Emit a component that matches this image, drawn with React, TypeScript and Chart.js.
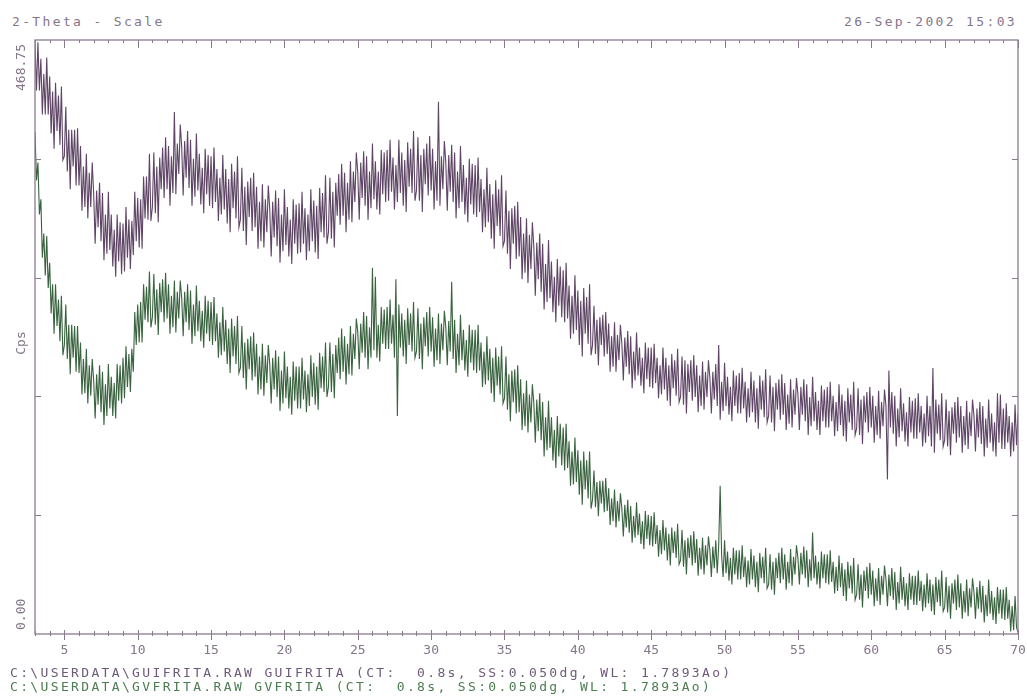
import React, { useEffect, useRef } from "react";
import { Chart, registerables } from "chart.js";

Chart.register(...registerables);

// 2-Theta scan: start angle and step (degrees)
const START_2THETA = 3;
const STEP_2THETA = 0.1;

// GUIFRITA scan (upper, purple), Cps, one row = 2 degrees
const guifritaCps = [
  466, 429, 467, 429, 454, 410, 442, 410, 455, 410, 440, 395, 428, 383, 435, 397, 425, 386, 432, 374,
  377, 416, 365, 398, 351, 398, 369, 398, 354, 399, 354, 385, 334, 369, 337, 379, 328, 364, 337, 372,
  347, 308, 350, 321, 356, 310, 348, 295, 331, 300, 349, 303, 331, 290, 319, 282, 331, 294, 325, 284,
  324, 286, 337, 297, 327, 288, 326, 299, 349, 310, 344, 305, 343, 304, 361, 328, 361, 327, 379, 326,
  337, 380, 332, 369, 325, 376, 351, 384, 344, 392, 351, 385, 338, 377, 348, 412, 347, 387, 363, 402,
  384, 346, 389, 360, 397, 352, 390, 338, 375, 345, 395, 350, 379, 339, 368, 332, 383, 347, 378, 338,
  377, 336, 384, 341, 367, 326, 360, 331, 378, 335, 367, 324, 359, 317, 371, 336, 365, 328, 377, 321,
  327, 368, 318, 353, 307, 357, 329, 360, 318, 364, 321, 353, 304, 341, 310, 355, 305, 343, 317, 354,
  335, 298, 341, 313, 350, 306, 344, 293, 331, 302, 351, 307, 337, 298, 327, 292, 343, 308, 339, 300,
  340, 301, 349, 308, 336, 295, 331, 302, 351, 310, 342, 301, 338, 296, 352, 317, 348, 313, 362, 308,
  317, 360, 312, 349, 305, 356, 330, 363, 323, 371, 330, 364, 317, 356, 327, 373, 325, 365, 341, 380,
  364, 327, 372, 344, 381, 338, 377, 327, 365, 336, 387, 343, 373, 335, 365, 331, 382, 347, 380, 341,
  382, 342, 390, 349, 376, 335, 370, 341, 390, 348, 380, 338, 374, 333, 388, 353, 383, 348, 397, 342,
  350, 392, 342, 378, 333, 383, 355, 387, 346, 393, 350, 383, 335, 373, 342, 420, 338, 377, 351, 389,
  372, 334, 378, 349, 386, 341, 380, 328, 365, 336, 385, 341, 370, 331, 360, 325, 375, 339, 371, 331,
  370, 329, 376, 333, 359, 317, 351, 321, 368, 325, 355, 312, 347, 304, 358, 322, 351, 314, 362, 306,
  310, 350, 300, 334, 288, 336, 308, 338, 296, 341, 298, 329, 280, 316, 285, 328, 277, 315, 288, 325,
  305, 267, 309, 280, 316, 270, 308, 256, 292, 262, 311, 265, 294, 254, 282, 246, 296, 259, 290, 250,
  287, 246, 293, 249, 275, 233, 267, 237, 283, 240, 271, 228, 263, 219, 273, 237, 266, 229, 276, 220,
  228, 259, 221, 248, 212, 250, 228, 252, 219, 254, 221, 245, 207, 235, 211, 246, 207, 236, 216, 244,
  229, 200, 234, 211, 239, 205, 235, 194, 223, 200, 238, 204, 226, 196, 218, 190, 230, 201, 226, 195,
  226, 194, 229, 198, 218, 186, 212, 189, 226, 193, 218, 184, 212, 180, 221, 194, 216, 188, 225, 183,
  187, 219, 181, 216, 174, 213, 191, 216, 184, 220, 187, 212, 175, 204, 180, 215, 177, 207, 187, 216,
  202, 174, 207, 185, 213, 180, 228, 169, 199, 176, 214, 180, 203, 173, 195, 168, 208, 180, 204, 174,
  206, 174, 210, 178, 199, 167, 194, 171, 207, 175, 200, 167, 194, 162, 204, 177, 200, 171, 209, 167,
  172, 204, 167, 195, 160, 198, 177, 201, 169, 205, 173, 198, 161, 189, 166, 201, 163, 193, 173, 202,
  189, 161, 195, 173, 201, 168, 197, 157, 187, 164, 203, 168, 191, 161, 184, 157, 196, 168, 193, 163,
  195, 163, 199, 168, 188, 156, 183, 160, 197, 165, 189, 156, 184, 152, 194, 167, 189, 161, 199, 157,
  162, 194, 157, 185, 150, 188, 167, 191, 159, 195, 163, 188, 151, 180, 157, 192, 154, 183, 164, 193,
  180, 122, 208, 163, 191, 158, 188, 148, 178, 155, 194, 160, 182, 152, 175, 148, 187, 159, 184, 154,
  186, 154, 190, 159, 180, 148, 174, 151, 188, 156, 180, 148, 210, 143, 185, 158, 181, 153, 190, 148,
  153, 185, 148, 176, 141, 179, 158, 183, 151, 187, 155, 180, 143, 172, 149, 184, 146, 175, 156, 185,
  172, 144, 178, 155, 183, 150, 180, 140, 170, 147, 185, 151, 174, 144, 167, 140, 190, 151, 189, 146,
  178, 146, 182, 151, 172, 140, 167, 144, 181, 149, 174,
];

// GVFRITA scan (lower, green), Cps, one row = 2 degrees
const gvfritaCps = [
  396, 358, 372, 331, 343, 297, 316, 283, 314, 273, 293, 253, 276, 237, 276, 243, 264, 231, 267, 220,
  228, 260, 217, 244, 205, 244, 218, 243, 207, 243, 206, 230, 189, 217, 190, 225, 182, 212, 188, 217,
  200, 170, 205, 181, 212, 175, 207, 165, 197, 172, 213, 178, 203, 172, 198, 170, 213, 184, 212, 182,
  218, 186, 227, 195, 221, 191, 225, 207, 254, 228, 260, 230, 262, 230, 276, 248, 274, 246, 286, 242,
  250, 284, 244, 272, 236, 277, 254, 280, 246, 285, 249, 276, 237, 267, 242, 279, 238, 270, 249, 279,
  265, 235, 270, 246, 276, 240, 271, 229, 260, 235, 275, 239, 263, 231, 255, 226, 267, 237, 263, 231,
  262, 228, 266, 231, 253, 218, 246, 220, 258, 223, 248, 213, 241, 206, 249, 219, 243, 213, 251, 206,
  210, 243, 202, 230, 193, 233, 209, 235, 200, 238, 203, 229, 189, 219, 193, 229, 188, 220, 198, 228,
  213, 182, 218, 193, 224, 187, 219, 176, 208, 182, 223, 186, 211, 178, 203, 173, 215, 184, 211, 178,
  211, 178, 218, 185, 208, 175, 205, 180, 220, 187, 214, 181, 211, 177, 222, 194, 219, 191, 230, 187,
  195, 230, 191, 221, 186, 228, 206, 234, 201, 241, 207, 235, 197, 229, 205, 243, 204, 237, 217, 249,
  238, 209, 245, 222, 254, 218, 251, 209, 242, 218, 289, 224, 282, 218, 244, 215, 258, 229, 256, 225,
  258, 225, 264, 229, 252, 218, 280, 172, 260, 226, 253, 219, 248, 213, 257, 228, 253, 223, 262, 218,
  223, 257, 217, 245, 209, 250, 227, 254, 219, 258, 223, 250, 211, 241, 216, 253, 213, 245, 224, 255,
  242, 212, 247, 223, 278, 217, 248, 206, 237, 212, 252, 216, 240, 208, 232, 203, 244, 214, 240, 208,
  240, 206, 244, 208, 230, 195, 223, 197, 235, 200, 225, 190, 218, 183, 226, 196, 219, 189, 227, 182,
  186, 219, 177, 205, 168, 208, 183, 209, 174, 212, 175, 201, 161, 190, 164, 200, 159, 189, 167, 197,
  182, 151, 185, 160, 190, 153, 183, 140, 171, 145, 184, 147, 171, 137, 161, 131, 172, 140, 166, 133,
  163, 129, 166, 131, 152, 117, 144, 118, 155, 120, 145, 110, 137, 102, 144, 114, 137, 107, 144, 99,
  106, 129, 100, 120, 93, 121, 103, 121, 96, 123, 97, 115, 86, 107, 89, 114, 84, 105, 89, 111,
  99, 77, 102, 84, 106, 80, 101, 72, 93, 76, 104, 78, 95, 71, 89, 67, 97, 75, 94, 70,
  93, 69, 96, 71, 86, 61, 82, 63, 90, 66, 84, 58, 79, 54, 84, 64, 81, 60, 87, 55,
  58, 82, 53, 74, 47, 76, 60, 78, 54, 81, 56, 75, 46, 68, 51, 76, 47, 70, 54, 77,
  66, 45, 69, 52, 74, 48, 70, 117, 62, 45, 74, 48, 65, 42, 60, 39, 68, 47, 66, 43,
  66, 43, 70, 45, 61, 37, 58, 39, 67, 43, 62, 37, 57, 33, 64, 44, 61, 40, 68, 36,
  39, 63, 35, 57, 31, 60, 44, 64, 40, 68, 43, 63, 35, 57, 40, 67, 38, 61, 47, 70,
  60, 39, 64, 47, 69, 44, 66, 37, 59, 42, 80, 44, 62, 39, 57, 36, 65, 44, 63, 40,
  63, 39, 66, 41, 57, 32, 53, 34, 62, 37, 56, 30, 51, 26, 57, 36, 54, 32, 60, 27,
  31, 55, 27, 47, 21, 50, 34, 53, 28, 56, 31, 50, 22, 44, 26, 52, 23, 46, 31, 54,
  43, 22, 47, 30, 52, 27, 49, 19, 41, 24, 53, 27, 45, 22, 40, 19, 48, 27, 46, 23,
  46, 23, 50, 26, 42, 18, 39, 21, 48, 24, 43, 18, 39, 15, 45, 25, 43, 22, 50, 18,
  21, 45, 17, 38, 12, 40, 24, 43, 19, 47, 21, 40, 12, 34, 17, 43, 14, 36, 21, 44,
  33, 12, 37, 20, 42, 17, 38, 9, 31, 14, 43, 16, 34, 11, 29, 8, 37, 16, 35, 12,
  35, 11, 37, 12, 27, 2, 22, 3, 30, 5, 2,
];

const X_MIN = 3;
const X_MAX = 70;
const xLabelValues = [5, 10, 15, 20, 25, 30, 35, 40, 45, 50, 55, 60, 65, 70];
const Y_MAX = 468.75;
const Y_TICK_STEP = 93.75;
const yEndLabels = ["0.00", "468.75"];
const yTitle = "Cps";

const FRAME = "#8a7a8e";
const TEXT = "#85768a";
const MONO = "'DejaVu Sans Mono', 'Liberation Mono', monospace";

const toPoints = (arr: number[]) =>
  arr.map((v, i) => ({ x: START_2THETA + i * STEP_2THETA, y: v }));

const framePlugin = {
  id: "xrdFrame",
  afterDraw(chart: any) {
    const { ctx, chartArea: a, scales } = chart;
    const xs = scales.x;
    const ys = scales.y;
    ctx.save();
    ctx.strokeStyle = FRAME;
    ctx.lineWidth = 1.3;
    ctx.strokeRect(a.left, a.top, a.right - a.left, a.bottom - a.top);
    ctx.lineWidth = 1;
    ctx.beginPath();
    for (let t = X_MIN; t <= X_MAX; t++) {
      const px = Math.round(xs.getPixelForValue(t)) + 0.5;
      const major = xLabelValues.includes(t);
      ctx.moveTo(px, a.bottom - (major ? 4 : 3));
      ctx.lineTo(px, a.bottom + (major ? 6 : 2));
      ctx.moveTo(px, a.top);
      ctx.lineTo(px, a.top + (major ? 8 : 3));
    }
    for (let v = Y_TICK_STEP; v < Y_MAX; v += Y_TICK_STEP) {
      const py = Math.round(ys.getPixelForValue(v)) + 0.5;
      ctx.moveTo(a.left, py);
      ctx.lineTo(a.left + 6, py);
      ctx.moveTo(a.right, py);
      ctx.lineTo(a.right - 6, py);
    }
    ctx.stroke();

    ctx.fillStyle = TEXT;
    ctx.font = `13px ${MONO}`;
    ctx.textBaseline = "middle";
    const lx = a.left - 13;
    ctx.save();
    ctx.translate(lx, ys.getPixelForValue(Y_MAX) + 4);
    ctx.rotate(-Math.PI / 2);
    ctx.textAlign = "right";
    ctx.fillText(yEndLabels[1], 0, 0);
    ctx.restore();
    ctx.save();
    ctx.translate(lx, ys.getPixelForValue(0) - 4);
    ctx.rotate(-Math.PI / 2);
    ctx.textAlign = "left";
    ctx.fillText(yEndLabels[0], 0, 0);
    ctx.restore();
    ctx.save();
    ctx.translate(lx, (a.top + a.bottom) / 2 + 6);
    ctx.rotate(-Math.PI / 2);
    ctx.textAlign = "center";
    ctx.fillText(yTitle, 0, 0);
    ctx.restore();
    ctx.restore();
  },
};

export default function App() {
  const ref = useRef<HTMLCanvasElement | null>(null);

  useEffect(() => {
    if (!ref.current) return;
    const chart = new Chart(ref.current, {
      type: "line",
      data: {
        datasets: [
          {
            label: "GUIFRITA",
            data: toPoints(guifritaCps),
            borderColor: "rgba(66, 36, 74, 0.85)",
            borderWidth: 1.1,
            pointRadius: 0,
            tension: 0,
          },
          {
            label: "GVFRITA",
            data: toPoints(gvfritaCps),
            borderColor: "rgba(22, 70, 28, 0.85)",
            borderWidth: 1.1,
            pointRadius: 0,
            tension: 0,
          },
        ],
      },
      options: {
        animation: false,
        responsive: true,
        maintainAspectRatio: false,
        layout: {
          autoPadding: false,
          padding: { left: 0, right: 9, top: 40, bottom: 33 },
        },
        plugins: {
          legend: { display: false },
          tooltip: { enabled: false },
          title: { display: false },
        },
        scales: {
          x: {
            type: "linear",
            min: X_MIN,
            max: X_MAX,
            grid: { display: false, drawTicks: false },
            border: { display: false },
            afterFit: (s: any) => {
              s.height = 30;
              s.paddingLeft = 0;
              s.paddingRight = 0;
            },
            ticks: {
              stepSize: 1,
              autoSkip: false,
              maxRotation: 0,
              minRotation: 0,
              padding: 9,
              color: TEXT,
              font: { family: MONO, size: 13 },
              callback: (v: any) => (xLabelValues.includes(Number(v)) ? String(v) : ""),
            },
          },
          y: {
            type: "linear",
            min: 0,
            max: Y_MAX,
            grid: { display: false, drawTicks: false },
            border: { display: false },
            ticks: { display: false },
            afterFit: (s: any) => {
              s.width = 35;
              s.paddingTop = 0;
              s.paddingBottom = 0;
            },
          },
        },
      },
      plugins: [framePlugin],
    });
    return () => chart.destroy();
  }, []);

  const textStyle: React.CSSProperties = {
    position: "absolute",
    fontFamily: MONO,
    fontSize: 13,
    letterSpacing: "2.35px",
    whiteSpace: "pre",
    lineHeight: "14px",
  };

  return (
    <div style={{ position: "absolute", left: 0, top: 0, width: 1027, height: 697, background: "#fff", overflow: "hidden" }}>
      <div style={{ ...textStyle, left: 12, top: 15, color: TEXT }}>2-Theta - Scale</div>
      <div style={{ ...textStyle, right: 10, top: 15, color: TEXT }}>26-Sep-2002 15:03</div>
      <div style={{ position: "absolute", left: 0, top: 0, width: 1027, height: 697 }}>
        <canvas ref={ref} />
      </div>
      <div style={{ ...textStyle, left: 10, top: 666, color: "#6f5a7a" }}>
        {"C:\\USERDATA\\GUIFRITA.RAW GUIFRITA (CT:  0.8s, SS:0.050dg, WL: 1.7893Ao)"}
      </div>
      <div style={{ ...textStyle, left: 10, top: 680, color: "#4d7d52" }}>
        {"C:\\USERDATA\\GVFRITA.RAW GVFRITA (CT:  0.8s, SS:0.050dg, WL: 1.7893Ao)"}
      </div>
    </div>
  );
}
